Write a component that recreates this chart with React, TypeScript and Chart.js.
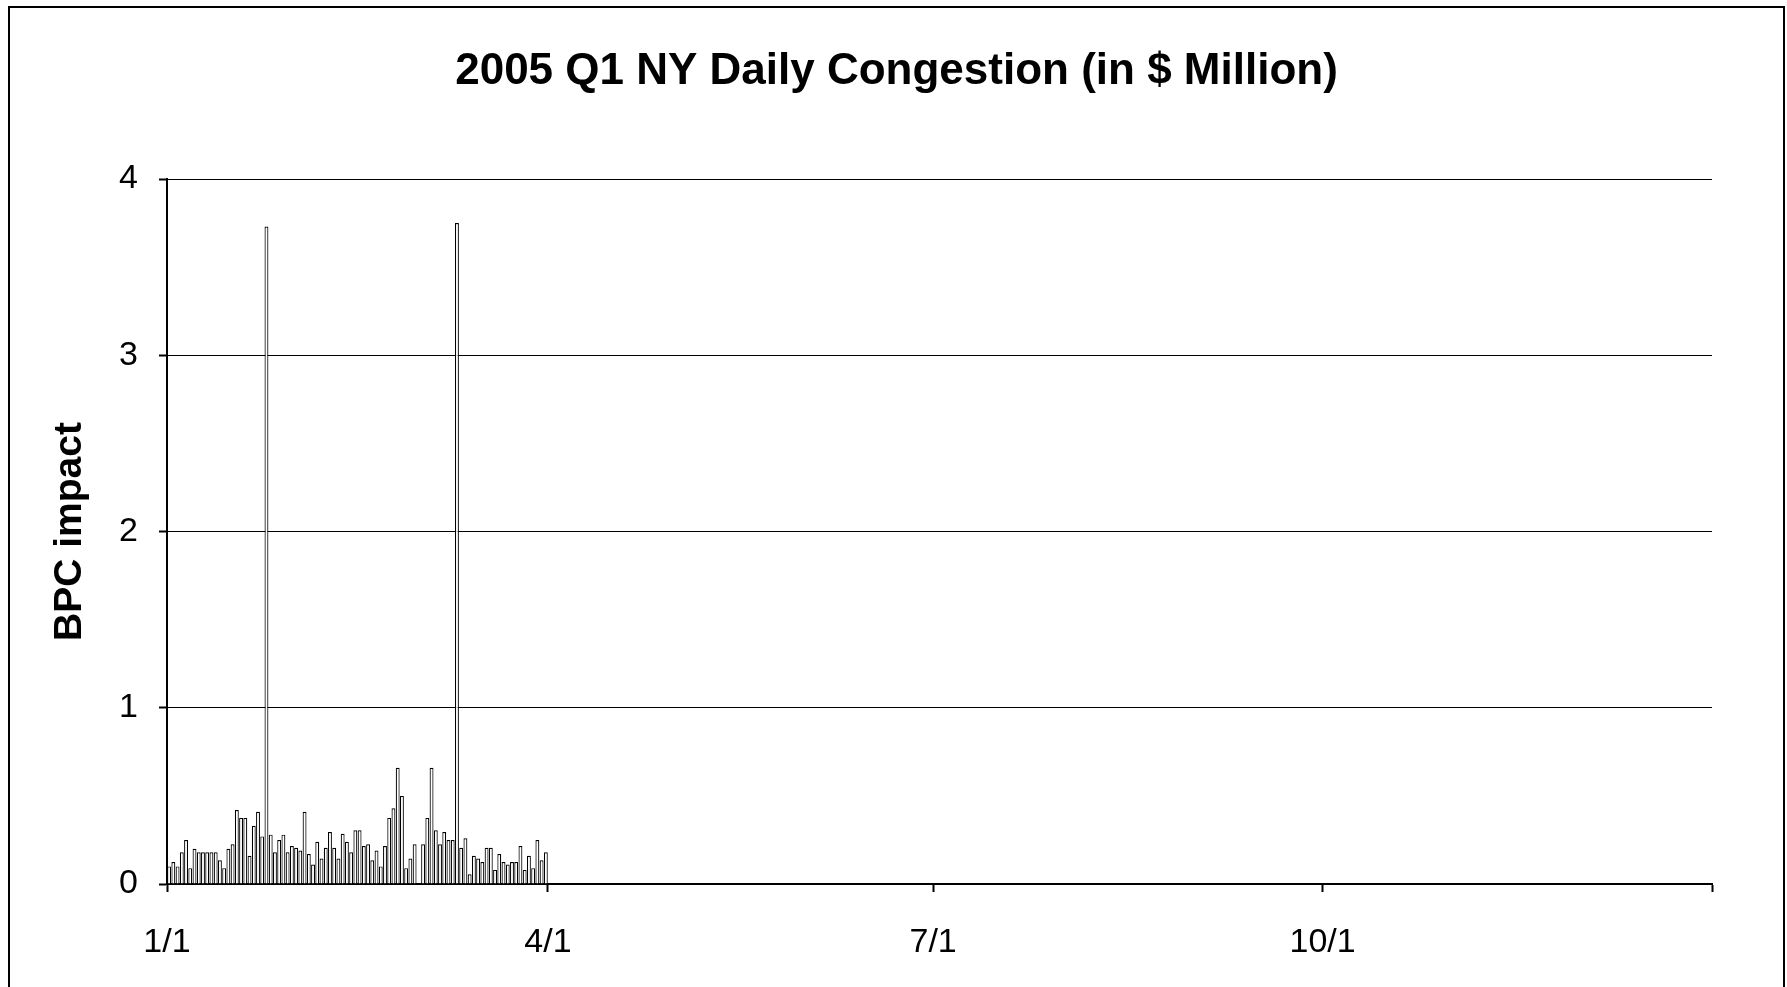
import React, { useEffect, useRef } from 'react';
import { Chart, registerables } from 'chart.js';

Chart.register(...registerables);

const chartTitle = '2005 Q1 NY Daily Congestion (in $ Million)';
const yAxisTitle = 'BPC impact';

// Daily values from 1/1/2005 to 3/31/2005 (in $ Million)
const dailyCongestion = [
  0.10, 0.125, 0.10, 0.18, 0.25, 0.09, 0.20, 0.18, 0.18, 0.18,
  0.18, 0.18, 0.135, 0.09, 0.20, 0.225, 0.42, 0.375, 0.375, 0.16,
  0.33, 0.41, 0.27, 3.73, 0.28, 0.18, 0.25, 0.28, 0.18, 0.215,
  0.205, 0.19, 0.41, 0.17, 0.11, 0.24, 0.145, 0.205, 0.295, 0.205,
  0.145, 0.285, 0.24, 0.18, 0.305, 0.305, 0.215, 0.225, 0.135, 0.19,
  0.10, 0.215, 0.375, 0.43, 0.66, 0.50, 0.09, 0.145, 0.225, 0,
  0.225, 0.375, 0.66, 0.305, 0.225, 0.295, 0.25, 0.25, 3.75, 0.205,
  0.26, 0.055, 0.16, 0.145, 0.125, 0.205, 0.205, 0.08, 0.17, 0.125,
  0.11, 0.125, 0.125, 0.215, 0.08, 0.16, 0.09, 0.25, 0.135, 0.18,
];

// x axis: days of the year 2005
const daysInYear = 365;
const xTickDays = [0, 90, 181, 273, 365];
const xTickLabels = ['1/1', '4/1', '7/1', '10/1', ''];

const yMin = 0;
const yMax = 4;
const yStep = 1;

const FONT = "'Liberation Sans', Arial, Helvetica, sans-serif";

export default function App() {
  const ref = useRef<HTMLCanvasElement>(null);

  useEffect(() => {
    if (!ref.current) return;
    const chart = new Chart(ref.current, {
      type: 'bar',
      data: {
        datasets: [
          {
            data: dailyCongestion.map((v, i) => ({ x: i + 0.5, y: v })),
            backgroundColor: '#ffffff',
            borderColor: '#000000',
            borderWidth: 1.2,
            barPercentage: 1,
            categoryPercentage: 0.92,
          },
        ],
      },
      options: {
        responsive: false,
        animation: false,
        layout: { padding: { left: 0, right: 0, top: 0, bottom: 0 } },
        plugins: {
          legend: { display: false },
          tooltip: { enabled: false },
          title: {
            display: true,
            text: chartTitle,
            color: '#000',
            font: { family: FONT, size: 44, weight: 'bold', lineHeight: 1.2 },
            padding: { top: 37, bottom: 81.2 },
          },
        },
        scales: {
          x: {
            type: 'linear',
            min: 0,
            max: daysInYear,
            offset: false,
            afterFit: (s: any) => {
              s.height = 110;
            },
            afterBuildTicks: (s: any) => {
              s.ticks = xTickDays.map((v) => ({ value: v }));
            },
            ticks: {
              autoSkip: false,
              maxRotation: 0,
              minRotation: 0,
              padding: 30,
              color: '#000',
              font: { family: FONT, size: 34 },
              callback: (_v: any, i: number) => xTickLabels[i] ?? '',
            },
            grid: {
              display: true,
              drawOnChartArea: false,
              drawTicks: true,
              tickLength: 8,
              tickColor: '#000',
              tickWidth: 2,
              offset: false,
            },
            border: { display: true, color: '#000', width: 2 },
          },
          y: {
            min: yMin,
            max: yMax,
            afterFit: (s: any) => {
              s.width = 157;
            },
            ticks: {
              stepSize: yStep,
              padding: 21,
              color: '#000',
              font: { family: FONT, size: 34 },
            },
            grid: {
              color: '#000',
              lineWidth: 1,
              drawTicks: true,
              tickLength: 8,
              tickColor: '#000',
              tickWidth: 2,
            },
            border: { display: true, color: '#000', width: 2 },
            title: {
              display: true,
              text: yAxisTitle,
              color: '#000',
              font: { family: FONT, size: 39, weight: 'bold', lineHeight: 1.2 },
              padding: { top: 36.9, bottom: 0 },
            },
          },
          yRightSpace: {
            position: 'right',
            display: true,
            afterFit: (s: any) => {
              s.width = 71;
            },
            grid: { display: false, drawTicks: false },
            ticks: { display: false },
            border: { display: false },
          },
        },
      },
    } as any);
    return () => chart.destroy();
  }, []);

  return (
    <div
      style={{
        position: 'fixed',
        left: 8,
        top: 6,
        width: 1777,
        height: 990,
        border: '2px solid #000',
        boxSizing: 'border-box',
        background: '#fff',
      }}
    >
      <canvas ref={ref} width={1773} height={986} style={{ display: 'block' }} />
    </div>
  );
}
